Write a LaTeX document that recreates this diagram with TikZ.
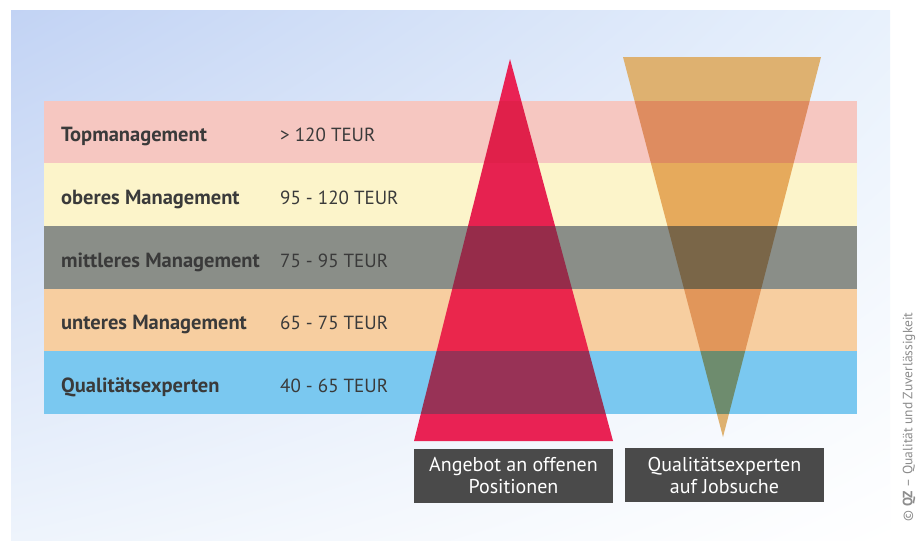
\documentclass[tikz,border=0pt]{standalone}
\usepackage{fontspec}
\setmainfont{PT Sans}
\usepackage{tikz}
\usetikzlibrary{positioning, shadings}
% bands
\definecolor{bandTop}{RGB}{246,199,193}
\definecolor{bandUpper}{RGB}{252,244,202}
\definecolor{bandMiddle}{RGB}{138,142,136}
\definecolor{bandLower}{RGB}{247,206,160}
\definecolor{bandExpert}{RGB}{122,200,240}
% triangles and where they cross the bands
\definecolor{offerRed}{RGB}{233,34,84}
\definecolor{seekTan}{RGB}{222,177,112}
\definecolor{redTop}{RGB}{224,32,74}
\definecolor{redUpper}{RGB}{230,34,80}
\definecolor{redMiddle}{RGB}{150,44,74}
\definecolor{redLower}{RGB}{234,38,76}
\definecolor{redExpert}{RGB}{152,50,86}
\definecolor{tanTop}{RGB}{222,140,96}
\definecolor{tanUpper}{RGB}{230,170,92}
\definecolor{tanMiddle}{RGB}{122,102,72}
\definecolor{tanLower}{RGB}{225,150,90}
\definecolor{tanExpert}{RGB}{110,140,110}
% misc
\definecolor{capBox}{RGB}{74,74,74}
\definecolor{labelInk}{RGB}{58,58,58}
\definecolor{skyNW}{RGB}{194,211,244}
\definecolor{skyNE}{RGB}{232,241,252}
\definecolor{skySW}{RGB}{238,244,252}
\def\bandh{62.7}
\tikzset{lvl/.style={font=\fontsize{20.5}{20.5}\selectfont\bfseries, text=labelInk, anchor=base west, inner sep=0pt}}
\tikzset{pay/.style={font=\fontsize{19}{19}\selectfont, text=labelInk, anchor=base west, inner sep=0pt}}
\tikzset{caption/.style={fill=capBox, text=white, minimum width=199pt, minimum height=54pt,
  align=center, font=\fontsize{20}{22}\selectfont, inner sep=0pt}}

\begin{document}
\begin{tikzpicture}[x=1pt,y=-1pt]
  \useasboundingbox (0,0) rectangle (919,546);
  % Background
  \fill[white] (0,0) rectangle (919,546);
  \shade[upper left=skyNW, upper right=skyNE, lower left=skySW, lower right=white]
    (11,10) rectangle (890,540);

  % Triangles
  \coordinate (r1) at (510,59);
  \coordinate (r2) at (613,441);
  \coordinate (r3) at (414,441);
  \coordinate (t1) at (623,57);
  \coordinate (t2) at (821,57);
  \coordinate (t3) at (723,437);
  \fill[offerRed] (r1) -- (r2) -- (r3) -- cycle;
  \fill[seekTan] (t1) -- (t2) -- (t3) -- cycle;

  % Bands with levels and salaries
  \foreach \lv/\name/\val [count=\i] in {
      Top/Topmanagement/{> 120 TEUR},
      Upper/oberes Management/{95 - 120 TEUR},
      Middle/mittleres Management/{75 - 95 TEUR},
      Lower/unteres Management/{65 - 75 TEUR},
      Expert/Qualitätsexperten/{40 - 65 TEUR}} {
    \fill[band\lv] (44,{100.5+\bandh*(\i-1)}) rectangle (857,{100.5+\bandh*\i});
    \begin{scope}
      \clip (r1) -- (r2) -- (r3) -- cycle;
      \fill[red\lv] (44,{100.5+\bandh*(\i-1)}) rectangle (857,{100.5+\bandh*\i});
    \end{scope}
    \begin{scope}
      \clip (t1) -- (t2) -- (t3) -- cycle;
      \fill[tan\lv] (44,{100.5+\bandh*(\i-1)}) rectangle (857,{100.5+\bandh*\i});
    \end{scope}
    \node[lvl] (lvl\i) at (61,{100.5+\bandh*(\i-0.5)+10}) {\name};
    \node[pay] (pay\i) at (280,{100.5+\bandh*(\i-0.5)+10}) {\val};
  }

  % Captions
  \node[caption] (offer) at (513.5,476) {Angebot an offenen\\Positionen};
  \node[caption] (seek) at (724.5,475) {Qualitätsexperten\\auf Jobsuche};

  \node[rotate=90, font=\fontsize{13.5}{13.5}\selectfont, text=black!45] (credit) at (909,417)
    {© \textbf{QZ} – Qualität und Zuverlässigkeit};
\end{tikzpicture}
\end{document}
